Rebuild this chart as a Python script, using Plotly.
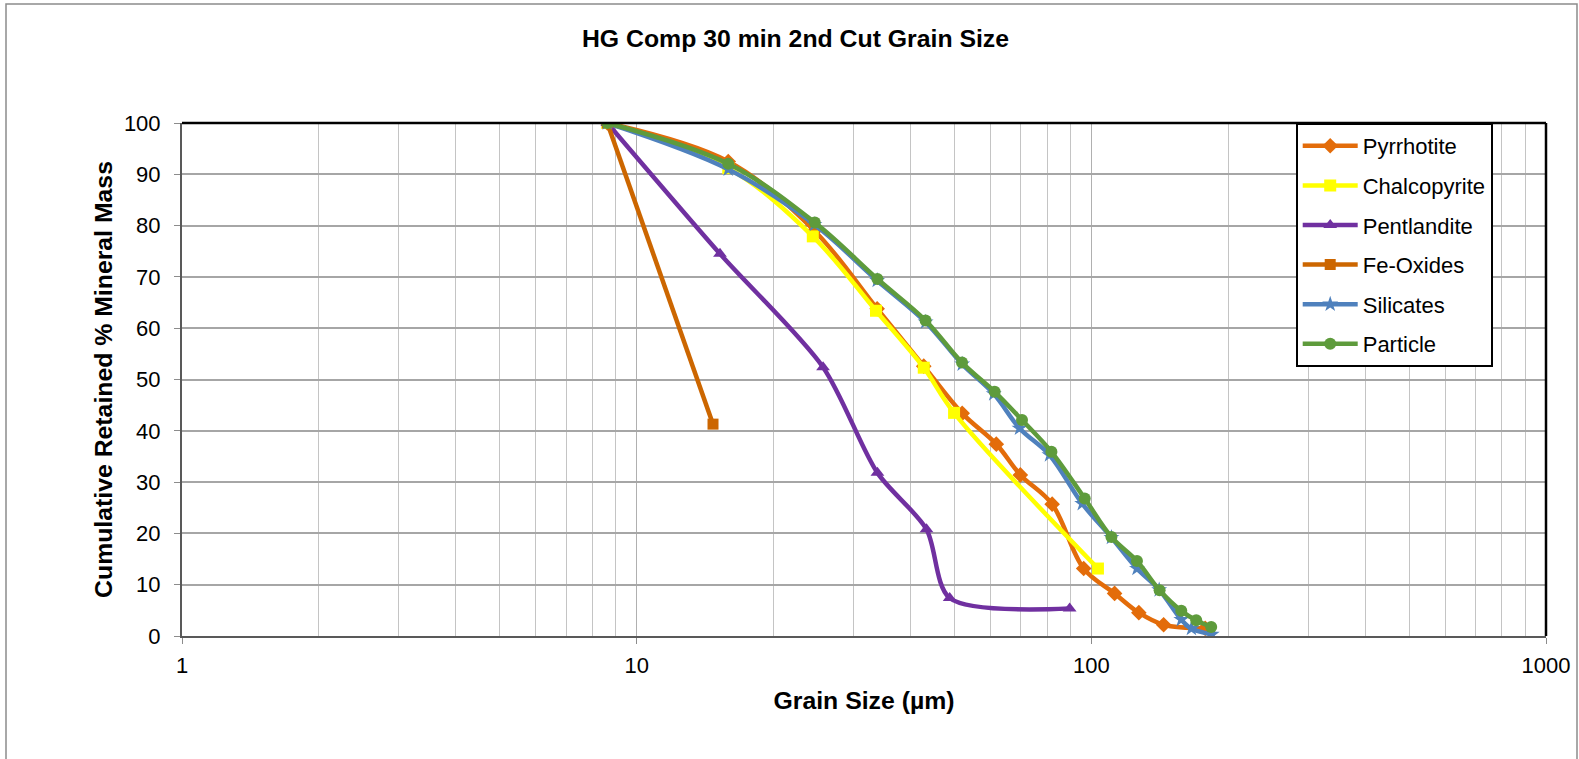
import plotly.graph_objects as go

# ---- data ----
pyr_x = [8.62, 15.9, 24.6, 33.8, 42.8, 52.0, 61.8, 69.8, 82.0, 96.2, 112.5, 127.2, 144.2, 178.0]
pyr_y = [100, 92.5, 79.0, 63.8, 52.6, 43.4, 37.4, 31.4, 25.7, 13.15, 8.3, 4.55, 2.2, 1.5]

chal_x = [8.62, 15.9, 24.4, 33.6, 42.8, 49.9, 103.4]
chal_y = [100, 91.2, 77.9, 63.4, 52.3, 43.5, 13.15]

pent_x = [8.62, 15.25, 25.7, 33.85, 43.4, 48.8, 89.6]
pent_y = [100, 74.5, 52.4, 31.8, 20.8, 7.4, 5.35]

feox_x = [8.62, 14.72]
feox_y = [100, 41.3]

sil_x = [8.62, 15.9, 24.6, 33.8, 43.2, 52.0, 61.0, 69.5, 80.9, 95.5, 110.7, 126.0, 141.0, 157.7, 166.0, 184.0]
sil_y = [100, 91.0, 80.2, 69.3, 61.2, 53.0, 47.2, 40.5, 35.3, 25.8, 19.2, 13.15, 9.0, 3.2, 1.45, 0.3]

part_x = [8.62, 15.9, 24.65, 33.85, 43.2, 51.95, 61.3, 70.4, 81.7, 96.7, 110.7, 126.0, 141.3, 157.7, 170.1, 183.5]
part_y = [100, 92.06, 80.6, 69.6, 61.5, 53.3, 47.6, 42.1, 35.9, 26.8, 19.3, 14.6, 8.9, 4.9, 3.06, 1.76]

x_tickvals = [1, 10, 100, 1000]
x_ticktext = ["1", "10", "100", "1000"]
y_tickvals = [0, 10, 20, 30, 40, 50, 60, 70, 80, 90, 100]

FONT = "Liberation Sans, Arial, sans-serif"

series = [
    ("Pyrrhotite", pyr_x, pyr_y, "#E36C0A", "diamond", 12, "spline", 1.0),
    ("Chalcopyrite", chal_x, chal_y, "#FFFF00", "square", 12, "spline", 1.0),
    ("Pentlandite", pent_x, pent_y, "#7030A0", "triangle-up", 12, "spline", 0.8),
    ("Fe-Oxides", feox_x, feox_y, "#CC6600", "square", 11, "linear", 1.0),
    ("Silicates", sil_x, sil_y, "#4F81BD", "star", 12, "spline", 1.0),
    ("Particle", part_x, part_y, "#5E9B3C", "circle", 12, "spline", 1.0),
]

fig = go.Figure()
for i, (name, xs, ys, col, sym, sz, shape, sm) in enumerate(series):
    fig.add_trace(go.Scatter(
        x=xs, y=ys, name=name, mode="lines+markers",
        line=dict(color=col, width=4.5, shape=shape, smoothing=sm),
        marker=dict(color=col, symbol=sym, size=sz),
        legendgroup=f"g{i}",
    ))

fig.update_layout(
    width=1579, height=759,
    margin=dict(l=182, r=33, t=123, b=123),
    paper_bgcolor="white", plot_bgcolor="white",
    font=dict(family=FONT, color="black", size=22),
    title=dict(text="<b>HG Comp 30 min 2nd Cut Grain Size</b>",
               x=795.5 / 1579, xref="container", xanchor="center",
               y=1 - 38 / 759, yref="container", yanchor="middle",
               font=dict(size=24.8, family=FONT, color="black")),
    showlegend=True,
    legend=dict(x=0.8165, y=1.0, xanchor="left", yanchor="top",
                bgcolor="white", bordercolor="black", borderwidth=2,
                font=dict(size=22, family=FONT, color="black"),
                tracegroupgap=8, itemwidth=55),
    xaxis=dict(
        type="log", range=[0, 3],
        tickvals=x_tickvals, ticktext=x_ticktext,
        showgrid=True, gridcolor="#B0B0B0", gridwidth=1,
        minor=dict(dtick="D1", showgrid=True, gridcolor="#C4C4C4", gridwidth=1, ticks=""),
        ticks="outside", ticklen=6, tickcolor="#8C8C8C",
        showline=True, linecolor="#595959", linewidth=2,
        zeroline=False, automargin=False, ticklabelstandoff=3,
        tickfont=dict(size=22, family=FONT),
        title=dict(text="<b>Grain Size (µm)</b>", font=dict(size=24.8, family=FONT), standoff=14),
    ),
    yaxis=dict(
        range=[0, 100], tickvals=y_tickvals,
        showgrid=True, gridcolor="#A6A6A6", gridwidth=1.5,
        ticks="outside", ticklen=6, tickcolor="#8C8C8C",
        showline=True, linecolor="#595959", linewidth=2,
        zeroline=False, automargin=False, ticklabelstandoff=9,
        tickfont=dict(size=22, family=FONT),
        title=dict(text="<b>Cumulative Retained % Mineral Mass</b>", font=dict(size=24.8, family=FONT), standoff=4),
    ),
    shapes=[
        dict(type="line", xref="paper", yref="paper", x0=0, x1=1, y0=1, y1=1,
             line=dict(color="black", width=2.5)),
        dict(type="line", xref="paper", yref="paper", x0=1, x1=1, y0=0, y1=1,
             line=dict(color="black", width=2.5)),
        dict(type="rect", xref="paper", yref="paper",
             x0=(6 - 182) / 1364, x1=(1577 - 182) / 1364,
             y0=-0.3, y1=(636 - 4) / 513,
             line=dict(color="#8C8C8C", width=1.5), fillcolor="rgba(0,0,0,0)", layer="below"),
    ],
)

fig.write_html("out.html",
               config={"displayModeBar": False},
               post_script="document.body.style.margin='0';document.body.style.overflow='hidden';")
